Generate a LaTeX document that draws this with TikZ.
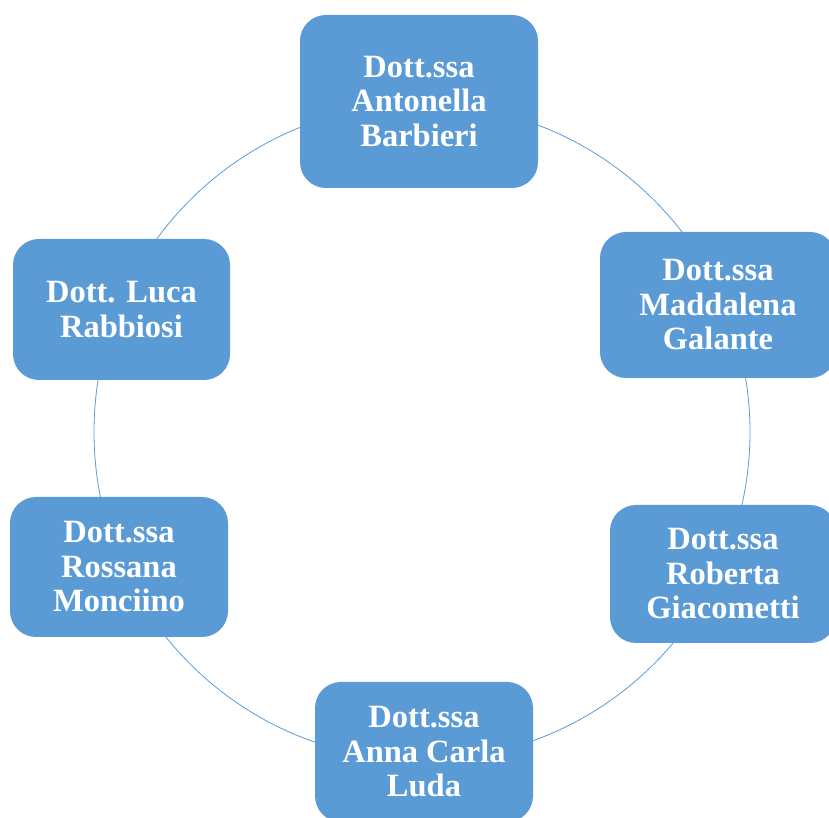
\documentclass[tikz,border=0pt]{standalone}
\usepackage{fontspec}
\setmainfont{Liberation Serif}
\usepackage{xcolor}
\usetikzlibrary{positioning,calc}
\definecolor{boxblue}{HTML}{5B9BD5}
\tikzset{
  Pbox/.style={fill=boxblue, rounded corners=26pt, align=center,
               text=white, font=\fontsize{32.5}{34.5}\selectfont\bfseries,
               inner sep=0pt},
  Ring/.style={draw=boxblue, line width=0.8pt}
}
\begin{document}
\begin{tikzpicture}[x=1pt,y=1pt]
  \clip (0,0) rectangle (829,818);
  \useasboundingbox (0,0) rectangle (829,818);
  \coordinate (ctr) at (422,386);
  \draw[Ring] (ctr) circle (328);
  \node[Pbox, minimum width=238, minimum height=173] (barbieri) at (419,716.5) {Dott.ssa\\Antonella\\Barbieri};
  \node[Pbox, minimum width=236, minimum height=146] (galante) at (718,513) {Dott.ssa\\Maddalena\\Galante};
  \node[Pbox, minimum width=226, minimum height=138] (giacometti) at (723,244) {Dott.ssa\\Roberta\\Giacometti};
  \node[Pbox, minimum width=218, minimum height=140] (luda) at (424,66) {Dott.ssa\\Anna Carla\\Luda};
  \node[Pbox, minimum width=218, minimum height=140] (monciino) at (119,251) {Dott.ssa\\Rossana\\Monciino};
  \node[Pbox, minimum width=217, minimum height=141] (rabbiosi) at (121.5,508.5) {Dott. Luca\\Rabbiosi};
\end{tikzpicture}
\end{document}
